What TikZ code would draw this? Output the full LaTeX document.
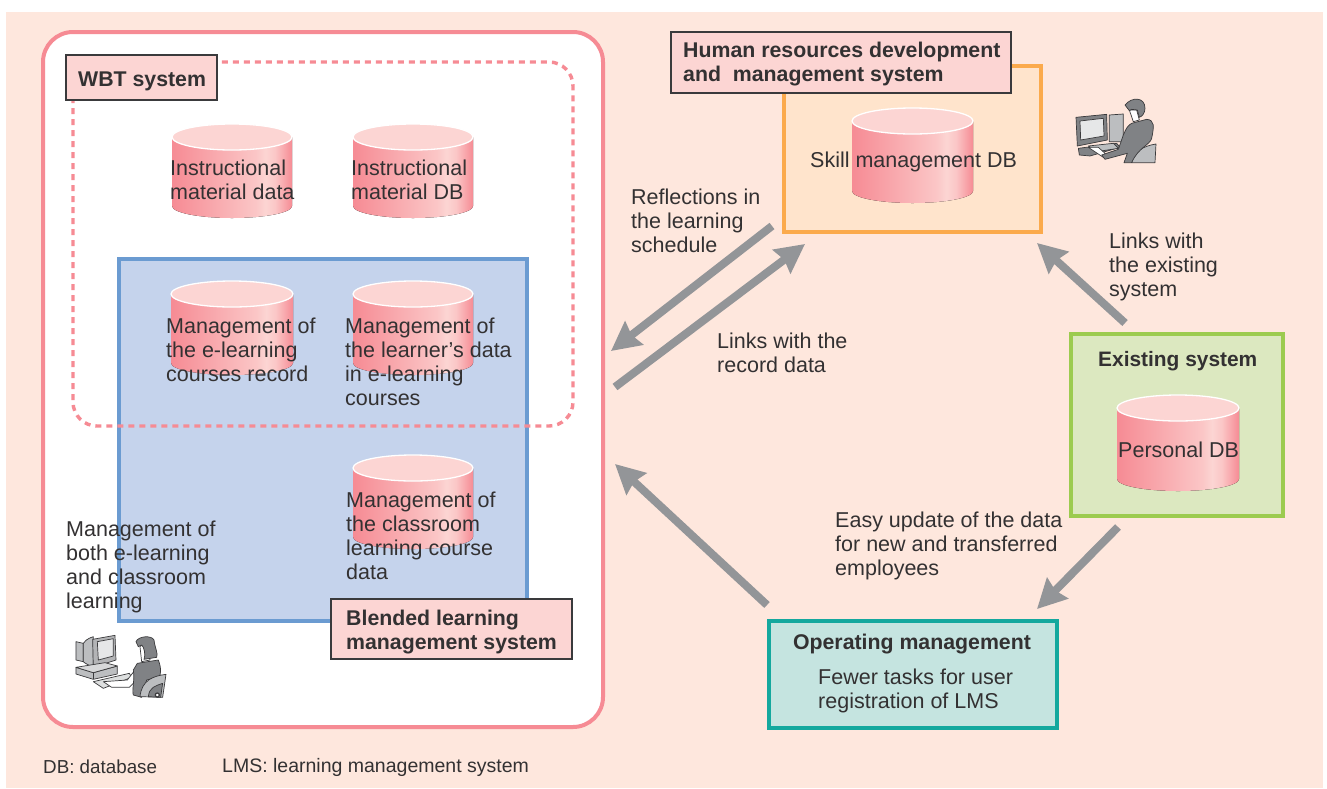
\documentclass[tikz,border=0pt]{standalone}
\usepackage{fontspec}
\setmainfont{Liberation Sans}
\usetikzlibrary{arrows.meta}
\definecolor{peach}{HTML}{FEE7DD}
\definecolor{pinkline}{HTML}{F68B94}
\definecolor{lpink}{HTML}{FCD5D3}
\definecolor{bluefill}{HTML}{C5D3EC}
\definecolor{blueline}{HTML}{6B9BD1}
\definecolor{orfill}{HTML}{FFE4CC}
\definecolor{orline}{HTML}{FBAA4C}
\definecolor{grfill}{HTML}{DCE8C0}
\definecolor{grline}{HTML}{9CCB4F}
\definecolor{tefill}{HTML}{C5E4E0}
\definecolor{teline}{HTML}{14A89E}
\definecolor{arrowgray}{HTML}{939598}
\definecolor{txt}{HTML}{333132}
\definecolor{icd}{HTML}{3A3A3C}
\definecolor{icm}{HTML}{808285}
\definecolor{icl}{HTML}{BCBEC0}
\definecolor{icw}{HTML}{E6E7E8}
\pgfdeclarehorizontalshading{dbshade}{100bp}{
 color(0bp)=(pinkline); color(25bp)=(pinkline); color(60bp)=(lpink!80!pinkline); color(64bp)=(lpink); color(68bp)=(lpink!80!pinkline); color(75bp)=(pinkline); color(100bp)=(pinkline)}
\tikzset{
 lab/.style={text=txt,font=\fontsize{21.5}{24}\selectfont,align=left,inner sep=0pt,anchor=west},
 head/.style={lab,font=\fontsize{21.3}{24}\selectfont\bfseries},
 small/.style={lab,font=\fontsize{19.5}{22}\selectfont},
 tag/.style={draw=icd,line width=1.2pt,fill=lpink,minimum width=0pt,inner sep=0pt},
 flow/.style={draw=arrowgray,line width=8pt,-{Stealth[length=29pt,width=29pt,inset=3pt]}},
 sysbox/.style={line width=3.6pt},
 icline/.style={draw=icd,line width=0.7pt,line join=round},
}
\newcommand{\dbcyl}[5]{% name, cx, top, bottom, rx
 \fill[shading=dbshade] (#2-#5,#3+13) -- (#2-#5,#4-12) arc[x radius=#5,y radius=12,start angle=180,end angle=0] -- (#2+#5,#3+13) -- cycle;
 \draw[white,line width=1.3pt,fill=lpink] (#2,#3+13) ellipse[x radius=#5,y radius=13];
 \coordinate (#1) at (#2,#3);
}
\begin{document}
\begin{tikzpicture}[x=1pt,y=-1pt]
\useasboundingbox (0,0) rectangle (1327,788);
\fill[peach] (6,12) rectangle (1323,788);
% outer
\draw[pinkline,line width=4pt,fill=white,rounded corners=30pt] (43,32) rectangle (603,727);
\fill[bluefill] (119,259) rectangle (527,621);
\draw[blueline,line width=3.4pt] (119,259) rectangle (527,621);
\draw[pinkline,line width=3.4pt,dash pattern=on 6pt off 5pt,rounded corners=24pt] (73,62) rectangle (573,426);
% sys boxes
\draw[orline,fill=orfill,sysbox] (784,66) rectangle (1041,232);
\draw[grline,fill=grfill,sysbox] (1071,334) rectangle (1283,516);
\draw[teline,fill=tefill,sysbox] (769,621) rectangle (1057,728);
% cylinders
\dbcyl{dba}{232}{124}{218}{60}
\dbcyl{dbb}{413}{124}{218}{60}
\dbcyl{dbc}{232}{281}{375}{61}
\dbcyl{dbd}{413}{281}{375}{60}
\dbcyl{dbe}{413}{455}{549}{60}
\dbcyl{dbf}{912.5}{108}{203}{60.5}
\dbcyl{dbg}{1178}{395}{491}{61}
% tags
\node[tag,minimum width=151pt,minimum height=45pt] (wbt) at (141.5,77.5) {};
\node[head] (wbtt) at (78,81) {WBT system};
\node[tag,minimum width=241pt,minimum height=60pt] (blend) at (451.5,629) {};
\node[head] (blendt) at (346,632) {Blended learning\\management system};
\node[tag,minimum width=340pt,minimum height=61pt] (hr) at (841,62.5) {};
\node[head] (hrt) at (683,64.5) {Human resources development\\and\ \ management system};
% labels
\node[lab] (l1) at (170,179.5) {Instructional\\material data};
\node[lab] (l2) at (351,179.5) {Instructional\\material DB};
\node[lab] (l3) at (166,349.5) {Management of\\the e-learning\\courses record};
\node[lab] (l4) at (345,361.5) {Management of\\the learner’s data\\in e-learning\\courses};
\node[lab] (l5) at (346,535.5) {Management of\\the classroom\\learning course\\data};
\node[lab] (l6) at (66,567) {Management of\\both e-learning\\and classroom\\learning};
\node[lab] (l7) at (810,161.5) {Skill management DB};
\node[lab] (l8) at (631,220.5) {Reflections in\\the learning\\schedule};
\node[lab] (l9) at (717,352.5) {Links with the\\record data};
\node[lab] (l10) at (1109,266.5) {Links with\\the existing\\system};
\node[head,font=\fontsize{20.9}{24}\selectfont\bfseries] (l11) at (1098,361) {Existing system};
\node[lab] (l12) at (1118,450) {Personal DB};
\node[lab] (l13) at (835,546) {Easy update of the data\\for new and transferred\\employees};
\node[head,anchor=center] (l14) at (912,644) {Operating management};
\node[lab] (l15) at (818,691) {Fewer tasks for user\\registration of LMS};
\node[small,font=\fontsize{18.8}{22}\selectfont] (l16) at (43,767) {DB: database};
\node[small] (l17) at (222,767) {LMS: learning management system};
% arrows
\coordinate (a1) at (772,226); \coordinate (a2) at (611,351);
\coordinate (b1) at (615,387); \coordinate (b2) at (805,244);
\coordinate (c1) at (1125,323); \coordinate (c2) at (1037,243);
\coordinate (d1) at (1118,527); \coordinate (d2) at (1037,609);
\coordinate (e1) at (767,605); \coordinate (e2) at (615,464);
\draw[flow] (a1) -- (a2);
\draw[flow] (b1) -- (b2);
\draw[flow] (c1) -- (c2);
\draw[flow] (d1) -- (d2);
\draw[flow] (e1) -- (e2);
% woman icon
\begin{scope}[shift={(40,580)},x=0.3333pt,y=-0.3333pt]
 \draw[icline,fill=icl] (108,185) -- (130,190) -- (130,245) -- (108,240) -- cycle;
 \draw[icline,fill=icl] (130,190) .. controls (140,175) and (155,172) .. (160,170) -- (160,262) .. controls (145,255) and (135,250) .. (130,245) -- cycle;
 \draw[icline,fill=icm!60!white] (158,178) -- (225,166) -- (228,240) -- (160,262) -- cycle;
 \draw[icline,fill=icw] (172,185) -- (220,176) -- (220,228) -- (175,240) -- cycle;
 \draw[icline,fill=icl] (108,262) -- (160,278) -- (232,258) -- (232,282) -- (160,298) -- (108,282) -- cycle;
 \draw[icline,fill=icl!60!white] (108,262) -- (160,278) -- (232,258) -- (195,248) -- cycle;
 \draw[icline] (160,278) -- (160,298);
 \draw[icline,fill=icl!50!white] (160,305) -- (268,280) -- (275,292) -- (190,325) -- cycle;
 \draw[icline,fill=white] (190,305) -- (262,300) -- (285,270) -- (290,300) -- (268,322) -- (215,322) -- cycle;
 \draw[icline,fill=icm] (292,250) -- (355,240) .. controls (365,265) and (362,285) .. (358,290) -- (320,300) -- (305,352) -- (280,345) .. controls (275,330) and (285,300) .. (280,270) -- cycle;
 \draw[icline,fill=icl] (300,350) .. controls (305,300) and (340,288) .. (378,283) -- (368,352) -- cycle;
 \draw[icline,fill=icm] (325,350) .. controls (328,322) and (345,318) .. (368,310) -- (362,352) -- cycle;
 \draw[icline,fill=white] (300,200) -- (312,190) -- (330,210) -- (330,240) -- (305,245) -- cycle;
 \draw[icline,fill=icm] (288,185) .. controls (295,168) and (335,165) .. (342,180) .. controls (345,205) and (355,220) .. (350,232) -- (312,238) .. controls (318,225) and (312,200) .. (305,195) -- (295,200) -- cycle;
 \draw[icd,line width=1.2pt,fill=white] (352,345) circle (6);
\end{scope}
% man icon
\begin{scope}[shift={(1040,60)},x=0.3333pt,y=-0.3333pt]
 \draw[icline,fill=icl] (208,165) -- (250,162) -- (250,245) -- (208,245) -- cycle;
 \draw[icline,fill=icm] (108,172) -- (200,163) -- (202,240) -- (112,258) -- cycle;
 \draw[icline,fill=icw] (120,183) -- (190,175) -- (192,228) -- (122,240) -- cycle;
 \draw[icline,fill=icm] (115,265) -- (230,250) -- (240,262) -- (150,288) -- (118,285) -- cycle;
 \draw[icline,fill=icl] (145,258) -- (220,250) -- (235,265) -- (170,275) -- cycle;
 \draw[icline,fill=white] (145,262) -- (175,262) -- (195,280) -- (190,292) -- cycle;
 \draw[icline,fill=icl] (275,308) .. controls (280,275) and (310,258) .. (348,252) -- (345,308) -- cycle;
 \draw[icline,fill=icm] (275,190) -- (320,178) .. controls (345,180) and (342,200) .. (335,235) .. controls (330,255) and (295,262) .. (275,308) -- (252,308) -- (262,280) -- (195,298) -- (185,285) -- (235,268) -- (250,225) .. controls (258,205) and (265,195) .. (275,190) -- cycle;
 \draw[icline,fill=white] (268,150) -- (280,185) -- (298,180) -- (290,150) -- cycle;
 \draw[icline,fill=icm] (255,135) .. controls (275,110) and (315,110) .. (315,145) .. controls (315,160) and (305,170) .. (298,172) -- (292,150) -- (275,148) -- (268,152) -- cycle;
\end{scope}
\end{tikzpicture}
\end{document}
